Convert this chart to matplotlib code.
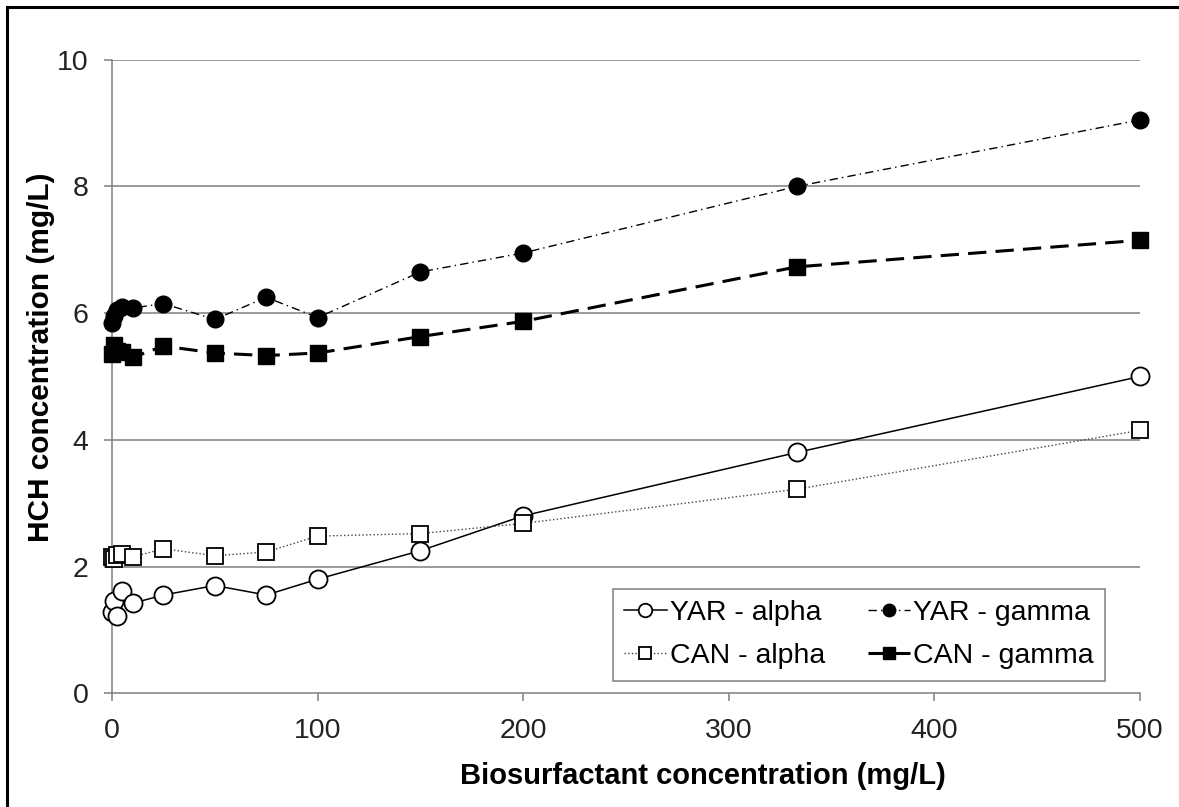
import matplotlib
matplotlib.use("Agg")
import matplotlib.pyplot as plt
from matplotlib.patches import Rectangle

plt.rcParams['font.family'] = ['Liberation Sans', 'DejaVu Sans']

# biosurfactant concentration (mg/L)
x = [0, 1, 2.5, 5, 10, 25, 50, 75, 100, 150, 200, 333, 500]

# HCH concentration (mg/L)
yar_alpha = [1.28, 1.45, 1.22, 1.62, 1.42, 1.55, 1.70, 1.55, 1.80, 2.25, 2.80, 3.80, 5.00]
yar_gamma = [5.85, 5.95, 6.05, 6.10, 6.08, 6.15, 5.90, 6.25, 5.93, 6.65, 6.95, 8.00, 9.05]
can_alpha = [2.15, 2.12, 2.18, 2.20, 2.15, 2.28, 2.17, 2.23, 2.48, 2.52, 2.68, 3.22, 4.15]
can_gamma = [5.35, 5.50, 5.40, 5.38, 5.30, 5.48, 5.37, 5.33, 5.37, 5.63, 5.87, 6.73, 7.15]

xticks = [0, 100, 200, 300, 400, 500]
yticks = [0, 2, 4, 6, 8, 10]

fig = plt.figure(figsize=(11.79, 8.07), dpi=100)
ax = fig.add_axes([0.095, 0.141, 0.872, 0.785])

# grid lines
for yv in yticks[1:]:
    ax.axhline(yv, color='#7f7f7f', lw=1.1, zorder=0)

l1, = ax.plot(x, yar_alpha, '-', color='black', lw=1.1, marker='o', ms=13,
              mfc='white', mec='black', mew=1.3, clip_on=False, zorder=3)
l2, = ax.plot(x, yar_gamma, color='black', lw=1.0, dashes=[6, 3, 1, 3],
              marker='o', ms=12, mfc='black', mec='black', clip_on=False, zorder=4)
l3, = ax.plot(x, can_alpha, ':', color='#444444', lw=1.0, marker='s', ms=12,
              mfc='white', mec='black', mew=1.3, clip_on=False, zorder=3)
l4, = ax.plot(x, can_gamma, color='black', lw=2.2, dashes=[6, 3],
              marker='s', ms=11, mfc='black', mec='black', clip_on=False, zorder=4)

ax.set_xlim(0, 500)
ax.set_ylim(0, 10)
ax.set_xticks(xticks)
ax.set_yticks(yticks)

for s in ['top', 'right']:
    ax.spines[s].set_visible(False)
for s in ['left', 'bottom']:
    ax.spines[s].set_color('#7f7f7f')
    ax.spines[s].set_linewidth(1.1)
ax.tick_params(axis='both', direction='out', length=6, width=1.1,
               color='#7f7f7f', labelsize=20.5, labelcolor='#222222')
ax.tick_params(axis='y', pad=11)
ax.tick_params(axis='x', pad=12)

ax.set_xlabel('Biosurfactant concentration (mg/L)', fontsize=21,
              fontweight='bold')
ax.xaxis.set_label_coords(0.575, -0.108)
ax.set_ylabel('HCH concentration (mg/L)', fontsize=21.5, fontweight='bold')
ax.yaxis.set_label_coords(-0.055, 0.53)

# row-major legend order: YAR alpha, YAR gamma / CAN alpha, CAN gamma
leg = ax.legend([l1, l3, l2, l4],
                ['YAR - alpha', 'CAN - alpha', 'YAR - gamma', 'CAN - gamma'],
                ncol=2, loc='lower right', bbox_to_anchor=(0.966, 0.02),
                borderaxespad=0,
                fontsize=20.5, fancybox=False, framealpha=1, edgecolor='#7f7f7f',
                handlelength=1.5, handletextpad=0.1, columnspacing=1.5,
                borderpad=0.4, labelspacing=0.6, markerscale=0.75)
leg.get_frame().set_linewidth(1.1)

# outer frame (left/top edges visible)
fig.patches.append(Rectangle((0.006, -0.5), 2, 1.491, transform=fig.transFigure,
                             fill=False, lw=2.2, edgecolor='black'))

fig.savefig('out.png', dpi=100)
